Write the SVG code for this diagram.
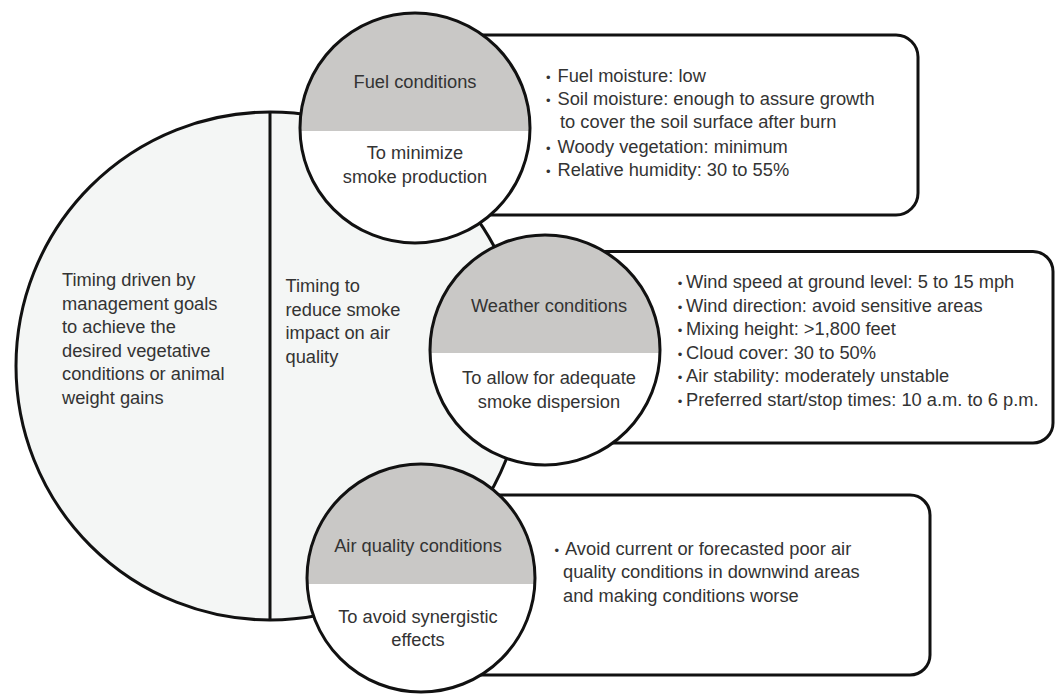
<svg xmlns="http://www.w3.org/2000/svg" width="1057" height="694" viewBox="0 0 1057 694">
<style>
text{font-family:"Liberation Sans",Arial,sans-serif;font-size:18.3px;fill:#333}
.c{text-anchor:middle}
.b{font-size:13px}
.ln{fill:none;stroke:#111;stroke-width:3}
.box{fill:#fff;stroke:#111;stroke-width:3}
.cap{fill:#c9c8c6}
.wh{fill:#fff}
</style>
<rect width="1057" height="694" fill="#fff"/>
<g id="timing">
<circle cx="270" cy="366" r="254" fill="#f4f6f5" stroke="#111" stroke-width="3"/>
<line x1="270" y1="112" x2="270" y2="620" class="ln"/>
<text x="62" y="286">Timing driven by</text>
<text x="62" y="309.5">management goals</text>
<text x="62" y="333">to achieve the</text>
<text x="62" y="356.5">desired vegetative</text>
<text x="62" y="380">conditions or animal</text>
<text x="62" y="403.5">weight gains</text>
<text x="285.5" y="292">Timing to</text>
<text x="285.5" y="315.6">reduce smoke</text>
<text x="285.5" y="339.2">impact on air</text>
<text x="285.5" y="362.8">quality</text>
</g>
<g id="fuel-box">
<path class="box" d="M420,35 H896 A22,22 0 0 1 918,57 V193 A22,22 0 0 1 896,215 H420 Z"/>
<text y="81.7"><tspan class="b" x="546">•</tspan><tspan x="557.5">Fuel moisture: low</tspan></text>
<text y="105"><tspan class="b" x="546">•</tspan><tspan x="557.5">Soil moisture: enough to assure growth</tspan></text>
<text x="560" y="128.3">to cover the soil surface after burn</text>
<text y="152.7"><tspan class="b" x="546">•</tspan><tspan x="557.5">Woody vegetation: minimum</tspan></text>
<text y="176"><tspan class="b" x="546">•</tspan><tspan x="557.5">Relative humidity: 30 to 55%</tspan></text>
</g>
<g id="weather-box">
<path class="box" d="M545,251.5 H1033 A20,20 0 0 1 1053,271.5 V423 A20,20 0 0 1 1033,443 H545 Z"/>
<text y="288"><tspan class="b" x="677.7">•</tspan><tspan x="686">Wind speed at ground level: 5 to 15 mph</tspan></text>
<text y="311.5"><tspan class="b" x="677.7">•</tspan><tspan x="686">Wind direction: avoid sensitive areas</tspan></text>
<text y="335"><tspan class="b" x="677.7">•</tspan><tspan x="686">Mixing height: &gt;1,800 feet</tspan></text>
<text y="358.5"><tspan class="b" x="677.7">•</tspan><tspan x="686">Cloud cover: 30 to 50%</tspan></text>
<text y="382"><tspan class="b" x="677.7">•</tspan><tspan x="686">Air stability: moderately unstable</tspan></text>
<text y="405.5"><tspan class="b" x="677.7">•</tspan><tspan x="686">Preferred start/stop times: 10 a.m. to 6 p.m.</tspan></text>
</g>
<g id="air-box">
<path class="box" d="M421,495 H910 A20,20 0 0 1 930,515 V655 A20,20 0 0 1 910,675 H421 Z"/>
<text y="555"><tspan class="b" x="554.4">•</tspan><tspan x="565">Avoid current or forecasted poor air</tspan></text>
<text x="563" y="578.3">quality conditions in downwind areas</text>
<text x="563" y="602.3">and making conditions worse</text>
</g>
<g id="fuel">
<circle cx="415" cy="128" r="115" class="wh"/>
<path class="cap" d="M300.04,131 A115,115 0 1 1 529.96,131 Z"/>
<circle cx="415" cy="128" r="115" class="ln"/>
<text class="c" x="415" y="88.3">Fuel conditions</text>
<text class="c" x="415" y="159">To minimize</text>
<text class="c" x="415" y="182.7">smoke production</text>
</g>
<g id="weather">
<circle cx="545" cy="350" r="115" class="wh"/>
<path class="cap" d="M430.04,353 A115,115 0 1 1 659.96,353 Z"/>
<circle cx="545" cy="350" r="115" class="ln"/>
<text class="c" x="549" y="312.3">Weather conditions</text>
<text class="c" x="549" y="384.3">To allow for adequate</text>
<text class="c" x="549" y="407.7">smoke dispersion</text>
</g>
<g id="air">
<circle cx="421" cy="578" r="114" class="wh"/>
<path class="cap" d="M307.11,584 A114,114 0 1 1 534.89,584 Z"/>
<circle cx="421" cy="578" r="114" class="ln"/>
<text class="c" x="418" y="551.7">Air quality conditions</text>
<text class="c" x="418" y="622.7">To avoid synergistic</text>
<text class="c" x="418" y="646">effects</text>
</g>
</svg>
